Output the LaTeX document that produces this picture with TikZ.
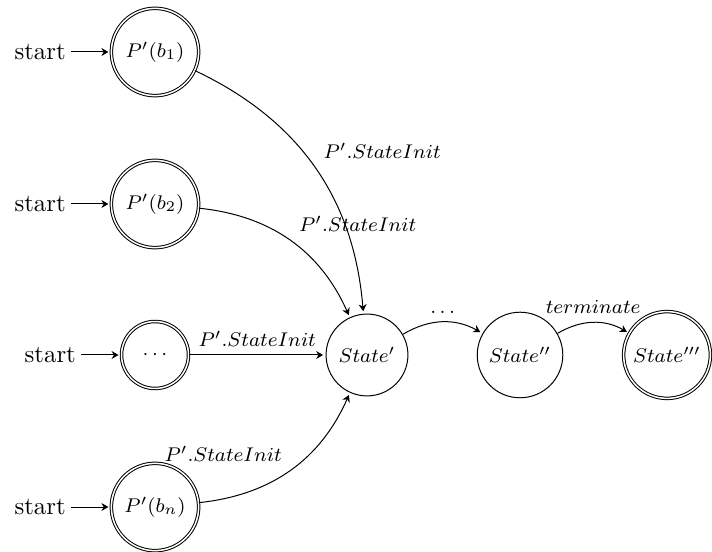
\documentclass[tikz,border=0pt]{standalone}
\usetikzlibrary{arrows.meta}
\begin{document}
\begin{tikzpicture}[x=0.4032pt,y=0.4032pt,
  st/.style={circle, draw, thin, inner sep=0pt, font=\footnotesize},
  acc/.style={st, double, double distance=0.6pt},
  edge/.style={-{Stealth[length=2.8pt,width=3.2pt,inset=0.9pt]}, shorten >=1pt, thin},
  lbl/.style={font=\footnotesize},
  starttxt/.style={anchor=east, inner sep=2pt}]
\useasboundingbox (0,0) rectangle (712,552);
\node[acc, minimum size=35.2pt] (b1) at (155,500) {$P'(b_1)$};
\node[acc, minimum size=35.2pt] (b2) at (155,348) {$P'(b_2)$};
\node[acc, minimum size=27pt] (bd) at (155,197) {$\cdots$};
\node[acc, minimum size=35.2pt] (bn) at (155,45) {$P'(b_n)$};
\node[st, minimum size=33pt] (s1) at (367,197) {$State'$};
\node[st, minimum size=34.5pt] (s2) at (520,197) {$State''$};
\node[acc, minimum size=35pt] (s3) at (667,197) {$State'''$};
\node[starttxt] (i1) at ([xshift=-16pt]b1.west) {start};
\node[starttxt] (i2) at ([xshift=-16pt]b2.west) {start};
\node[starttxt] (i3) at ([xshift=-16pt]bd.west) {start};
\node[starttxt] (i4) at ([xshift=-16pt]bn.west) {start};
\draw[edge] (i1) -- (b1);
\draw[edge] (i2) -- (b2);
\draw[edge] (i3) -- (bd);
\draw[edge] (i4) -- (bn);
\begin{scope}[auto]
\draw[edge] (b1) to[bend left] node[lbl] {$P'.StateInit$} (s1);
\draw[edge] (b2) to[bend left] node[lbl] {$P'.StateInit$} (s1);
\draw[edge] (bd) to node[lbl] {$P'.StateInit$} (s1);
\draw[edge] (bn) to[bend right] node[lbl] {$P'.StateInit$} (s1);
\draw[edge] (s1) to[bend left] node[lbl] {$\ldots$} (s2);
\draw[edge] (s2) to[bend left] node[lbl] {$terminate$} (s3);
\end{scope}
\end{tikzpicture}
\end{document}
